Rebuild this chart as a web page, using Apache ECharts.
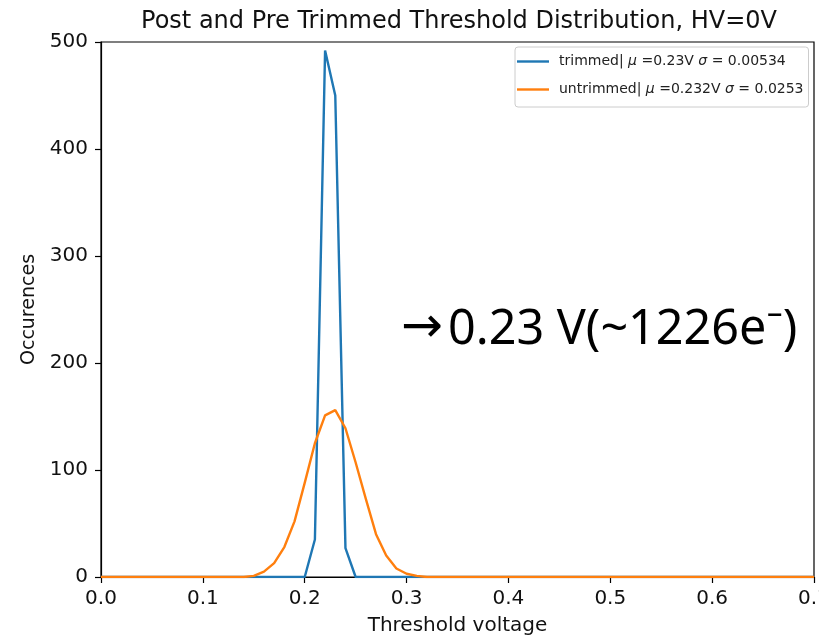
<!DOCTYPE html>
<html>
<head>
<meta charset="utf-8">
<script src="https://cdn.jsdelivr.net/npm/echarts@6/dist/echarts.min.js"></script>
<style>html,body{margin:0;padding:0;background:#fff;}#c{width:819px;height:639px;}</style>
</head>
<body>
<div id="c"></div>
<script>
// Data
const seriesNames = ['trimmed', 'untrimmed'];
const legendMu = ['0.23V', '0.232V'];
const legendSigma = ['0.00534', '0.0253'];
const voltageTrimmed = [0.00, 0.20, 0.21, 0.22, 0.23, 0.24, 0.25, 0.70];
const countsTrimmed = [0, 0, 35, 492, 450, 27, 0, 0];
const voltageUntrimmed = [0.00, 0.14, 0.15, 0.16, 0.17, 0.18, 0.19, 0.20, 0.21, 0.22, 0.23, 0.24, 0.25, 0.26, 0.27, 0.28, 0.29, 0.30, 0.31, 0.32, 0.70];
const countsUntrimmed = [0, 0, 1, 5, 13, 28, 52, 88, 125, 151, 156, 139, 107, 73, 40, 20, 8, 3, 1, 0, 0];
const xTicks = [0.0, 0.1, 0.2, 0.3, 0.4, 0.5, 0.6, 0.7];
const yTicks = [0, 100, 200, 300, 400, 500];

const titleText = 'Post and Pre Trimmed Threshold Distribution, HV=0V';
const annotationArrow = '\u2192';
const annotationText = '0.23 V(~1226e\u207B)';

const pair = (xs, ys) => xs.map((x, i) => [x, ys[i]]);
const FONT = 'DejaVu Sans';

const chart = echarts.init(document.getElementById('c'), null, {renderer: 'canvas'});
chart.setOption({
  animation: false,
  backgroundColor: '#fff',
  title: {
    text: titleText,
    left: 454, top: 5, textAlign: 'center',
    textStyle: {fontFamily: FONT, fontSize: 24, fontWeight: 'normal', color: '#111'}
  },
  grid: {left: 101, right: 5, top: 42, bottom: 62, containLabel: false, outerBoundsMode: 'none',
         show: true, borderColor: '#000', borderWidth: 1.2, backgroundColor: 'transparent'},
  legend: {
    orient: 'vertical', left: 515, top: 47,
    data: seriesNames,
    icon: 'rect', itemWidth: 32, itemHeight: 2.4, itemGap: 11,
    padding: [6, 5, 9, 2],
    backgroundColor: '#fff', borderColor: '#cccccc', borderWidth: 1, borderRadius: 3,
    formatter: name => {
      const i = seriesNames.indexOf(name);
      return name + '| {i|\u03bc} =' + legendMu[i] + ' {i|\u03c3} = ' + legendSigma[i];
    },
    textStyle: {
      fontFamily: FONT, fontSize: 14, color: '#222', padding: [0, 0, 0, 5], lineHeight: 17,
      rich: {i: {fontFamily: FONT, fontStyle: 'italic', fontSize: 14, color: '#222', lineHeight: 17}}
    }
  },
  xAxis: {
    type: 'value', min: xTicks[0], max: xTicks[xTicks.length - 1], interval: 0.1,
    name: 'Threshold voltage', nameLocation: 'middle', nameGap: 39,
    nameTextStyle: {fontFamily: FONT, fontSize: 20, color: '#111'},
    axisLine: {show: true, onZero: false, lineStyle: {color: '#000', width: 1.2}},
    axisTick: {show: true, length: 6, inside: false, lineStyle: {color: '#000', width: 1.2}},
    axisLabel: {fontFamily: FONT, fontSize: 20, color: '#111', margin: 12, formatter: v => v.toFixed(1)},
    splitLine: {show: false}
  },
  yAxis: {
    type: 'value', min: yTicks[0], max: yTicks[yTicks.length - 1], interval: 100,
    name: 'Occurences', nameLocation: 'middle', nameGap: 57,
    nameTextStyle: {fontFamily: FONT, fontSize: 19, color: '#111'},
    axisLine: {show: true, lineStyle: {color: '#000', width: 1.2}},
    axisTick: {show: true, length: 6, lineStyle: {color: '#000', width: 1.2}},
    axisLabel: {fontFamily: FONT, fontSize: 20, color: '#111', margin: 13},
    splitLine: {show: false}
  },
  series: [
    {
      name: seriesNames[0], type: 'line', data: pair(voltageTrimmed, countsTrimmed),
      showSymbol: false, symbol: 'none', color: '#1f77b4',
      lineStyle: {color: '#1f77b4', width: 2.4}, z: 2
    },
    {
      name: seriesNames[1], type: 'line', data: pair(voltageUntrimmed, countsUntrimmed),
      showSymbol: false, symbol: 'none', color: '#ff7f0e',
      lineStyle: {color: '#ff7f0e', width: 2.4}, z: 3
    }
  ],
  graphic: [
    {
      type: 'text', left: 401, top: 304, z: 10,
      style: {
        text: '{a|' + annotationArrow + '}{b|' + annotationText + '}',
        rich: {
          a: {fontFamily: 'DejaVu Sans', fontSize: 50, fill: '#000', lineHeight: 56, padding: [0, 0, 2, 0]},
          b: {fontFamily: 'Noto Sans', fontSize: 48.5, fill: '#000', lineHeight: 56, padding: [0, 0, 0, 5]}
        }
      }
    }
  ]
});
</script>
</body>
</html>
